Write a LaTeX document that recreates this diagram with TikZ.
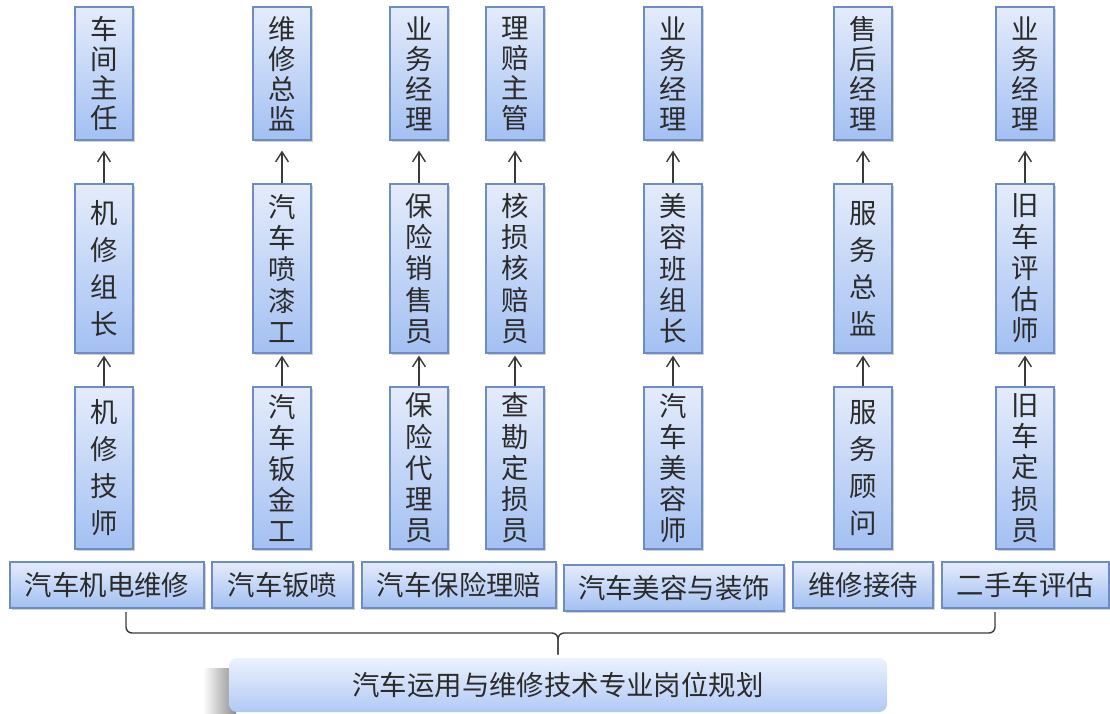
\documentclass[tikz,border=0pt]{standalone}
\usepackage{fontspec}
\usepackage{xcolor}
\usepackage{tikz}
\usetikzlibrary{shadows, arrows.meta}
\newfontfamily\cjk{Noto Sans CJK SC}
\definecolor{boxtop}{HTML}{E4ECFB}
\definecolor{boxbot}{HTML}{A3C0F2}
\definecolor{boxedge}{HTML}{6D8CC4}
\definecolor{textgray}{HTML}{2B2B2B}
\definecolor{linegray}{HTML}{3A3A3A}

\begin{document}
\begin{tikzpicture}[x=0.025cm, y=-0.025cm,
  post/.style={rectangle, draw=boxedge, top color=boxtop, bottom color=boxbot, text=textgray,
    inner sep=0pt, align=center, line width=0.8pt,
    drop shadow={shadow xshift=0.04cm, shadow yshift=-0.06cm, fill=black, opacity=0.18}},
  head/.style={post, minimum width=1.45cm, minimum height=3.325cm, font=\cjk\fontsize{19.5}{21.3}\selectfont},
  mid/.style={post, minimum width=1.45cm, minimum height=4.225cm},
  low/.style={post, minimum width=1.45cm, minimum height=4.05cm},
  four/.style={font=\cjk\fontsize{19.5}{26.3}\selectfont},
  five/.style={font=\cjk\fontsize{19.5}{22.2}\selectfont},
  field/.style={post, minimum height=1.15cm, font=\cjk\fontsize{19.5}{22}\selectfont},
  rise/.style={draw=linegray, line width=1pt, -{Straight Barb[length=0.25cm, width=0.32cm]}},
  bracket/.style={draw=linegray, line width=1pt, rounded corners=0.15cm}]
  \useasboundingbox (0,0) rectangle (1110,713);

  \node[head] (workshop) at (104,73.5) {车\\间\\主\\任};
  \node[head] (repairchief) at (282,73.5) {维\\修\\总\\监};
  \node[head] (salesmgrA) at (419,73.5) {业\\务\\经\\理};
  \node[head] (claimlead) at (515,73.5) {理\\赔\\主\\管};
  \node[head] (salesmgrB) at (673,73.5) {业\\务\\经\\理};
  \node[head] (aftersales) at (863,73.5) {售\\后\\经\\理};
  \node[head] (salesmgrC) at (1025,73.5) {业\\务\\经\\理};

  \node[mid, four] (mechlead) at (104,268.5) {机\\修\\组\\长};
  \node[mid, five] (painter) at (282,268.5) {汽\\车\\喷\\漆\\工};
  \node[mid, five] (inssales) at (419,268.5) {保\\险\\销\\售\\员};
  \node[mid, five] (assessor) at (515,268.5) {核\\损\\核\\赔\\员};
  \node[mid, five] (beautylead) at (673,268.5) {美\\容\\班\\组\\长};
  \node[mid, four] (servicedir) at (863,268.5) {服\\务\\总\\监};
  \node[mid, five] (valuer) at (1025,268.5) {旧\\车\\评\\估\\师};

  \node[low, four] (mechanic) at (104,468) {机\\修\\技\\师};
  \node[low, five] (panelbeater) at (282,468) {汽\\车\\钣\\金\\工};
  \node[low, five] (insagent) at (419,468) {保\\险\\代\\理\\员};
  \node[low, five] (surveyor) at (515,468) {查\\勘\\定\\损\\员};
  \node[low, five] (detailer) at (673,468) {汽\\车\\美\\容\\师};
  \node[low, four] (advisor) at (863,468) {服\\务\\顾\\问};
  \node[low, five] (usedsurveyor) at (1025,468) {旧\\车\\定\\损\\员};

  \node[field, minimum width=4.85cm] (mechrepair) at (107,585) {汽车机电维修};
  \node[field, minimum width=3.525cm] (bodypaint) at (282.5,585) {汽车钣喷};
  \node[field, minimum width=4.85cm] (insurance) at (459,585) {汽车保险理赔};
  \node[field, minimum width=5.5cm] (beauty) at (674,588) {汽车美容与装饰};
  \node[field, minimum width=3.5cm] (reception) at (863,585) {维修接待};
  \node[field, minimum width=4.175cm] (usedcar) at (1025.5,585) {二手车评估};

  \shade[left color=white, right color=black!45] (203,668) rectangle (236,713);
  \node[rectangle, rounded corners=0.2cm, top color=boxtop!70, bottom color=boxbot!85, text=textgray,
    minimum width=16.45cm, minimum height=1.35cm, font=\cjk\fontsize{19.5}{22}\selectfont]
    (plan) at (558,685) {汽车运用与维修技术专业岗位规划};

  \coordinate (braceL) at (126,612);
  \coordinate (braceR) at (995,612);
  \coordinate (braceC) at (plan.north |- 0,633);

  \draw[rise, shorten >=0.25cm] (mechlead) -- (workshop);
  \draw[rise, shorten >=0.25cm] (painter) -- (repairchief);
  \draw[rise, shorten >=0.25cm] (inssales) -- (salesmgrA);
  \draw[rise, shorten >=0.25cm] (assessor) -- (claimlead);
  \draw[rise, shorten >=0.25cm] (beautylead) -- (salesmgrB);
  \draw[rise, shorten >=0.25cm] (servicedir) -- (aftersales);
  \draw[rise, shorten >=0.25cm] (valuer) -- (salesmgrC);

  \draw[rise, shorten >=0.05cm] (mechanic) -- (mechlead);
  \draw[rise, shorten >=0.05cm] (panelbeater) -- (painter);
  \draw[rise, shorten >=0.05cm] (insagent) -- (inssales);
  \draw[rise, shorten >=0.05cm] (surveyor) -- (assessor);
  \draw[rise, shorten >=0.05cm] (detailer) -- (beautylead);
  \draw[rise, shorten >=0.05cm] (advisor) -- (servicedir);
  \draw[rise, shorten >=0.05cm] (usedsurveyor) -- (valuer);

  \draw[bracket, shorten >=0.075cm] (braceL) |- (braceC) -- (plan.north);
  \draw[bracket, shorten >=0.075cm] (braceR) |- (braceC) -- (plan.north);
\end{tikzpicture}
\end{document}
